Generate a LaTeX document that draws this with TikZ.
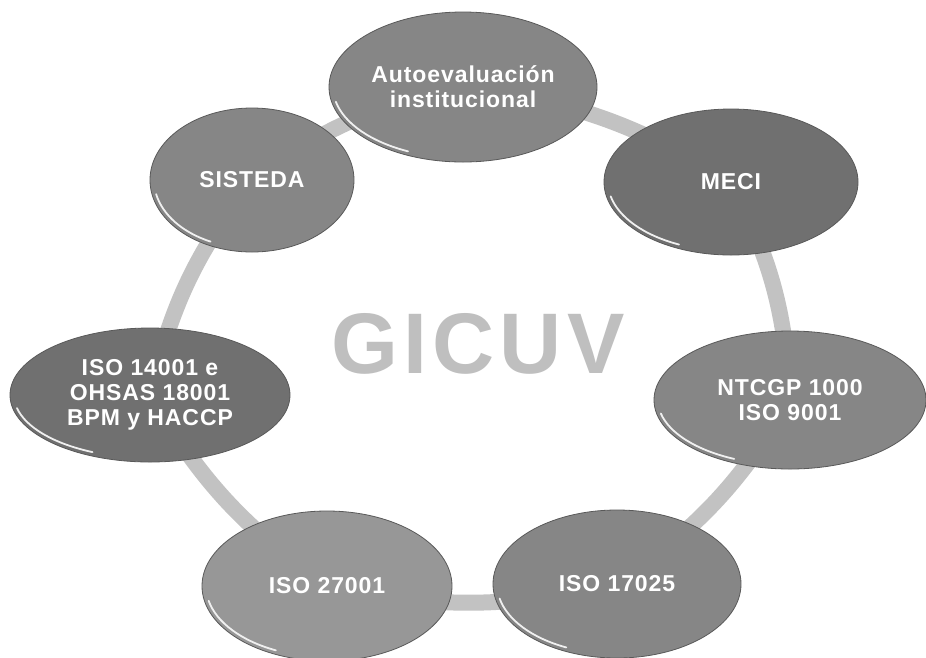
\documentclass[tikz,border=0pt]{standalone}
\usepackage{fontspec}
\setmainfont{Liberation Sans}
\usetikzlibrary{shapes.geometric,backgrounds}
\definecolor{ovA}{HTML}{868686}
\definecolor{ovB}{HTML}{707070}
\definecolor{ovC}{HTML}{979797}
\definecolor{bandc}{HTML}{C2C2C2}
\tikzset{
  oval/.style={ellipse, draw=gray!70!black, line width=0.8pt, inner sep=0pt,
    text=white, font=\bfseries\fontsize{23}{25}\selectfont\addfontfeature{LetterSpace=4}, align=center},
  band/.style={line width=16pt, draw=bandc},
  rim/.style={draw=white!88!gray, line width=1.8pt, line cap=round}
}
\begin{document}
\begin{tikzpicture}[x=1pt,y=-1pt]
\useasboundingbox (0,0) rectangle (926,657);
\node[oval, fill=ovA, minimum width=268, minimum height=150] (auto) at (463,87) {Autoevaluación\\institucional};
\node[oval, fill=ovB, minimum width=254, minimum height=146] (meci) at (731,182) {MECI};
\node[oval, fill=ovA, minimum width=272, minimum height=138] (ntc) at (790,400) {NTCGP 1000\\ISO 9001};
\node[oval, fill=ovA, minimum width=248, minimum height=148] (i17) at (617,584) {ISO 17025};
\node[oval, fill=ovC, minimum width=250, minimum height=150] (i27) at (327,586) {ISO 27001};
\node[oval, fill=ovB, minimum width=280, minimum height=134] (i14) at (150,395) {ISO 14001 e\\OHSAS 18001\\BPM y HACCP};
\node[oval, fill=ovA, minimum width=204, minimum height=144] (sis) at (252,180) {SISTEDA};
\node[text=gray!50, font=\bfseries\fontsize{86}{90}\selectfont\addfontfeature{LetterSpace=6}] (title) at (478,344) {GICUV};
\foreach \n/\rx/\ry in {auto/134/75, meci/127/73, ntc/136/69, i17/124/74, i27/125/75, i14/140/67, sis/102/72}{
  \draw[rim] (\n.center) ++(168:{\rx-4} and {\ry-4}) arc[start angle=168, end angle=115, x radius=\rx-4, y radius=\ry-4];
}
\begin{scope}[on background layer]
\fill[white] (0,0) rectangle (926,657);
\draw[band] (auto.center) to[bend left=12] (meci.center);
\draw[band] (meci.center) to[bend left=12] (ntc.center);
\draw[band] (ntc.center) to[bend left=12] (i17.center);
\draw[band] (i17.center) to[bend left=12] (i27.center);
\draw[band] (i27.center) to[bend left=12] (i14.center);
\draw[band] (i14.center) to[bend left=12] (sis.center);
\draw[band] (sis.center) to[bend left=12] (auto.center);
\end{scope}
\end{tikzpicture}
\end{document}
